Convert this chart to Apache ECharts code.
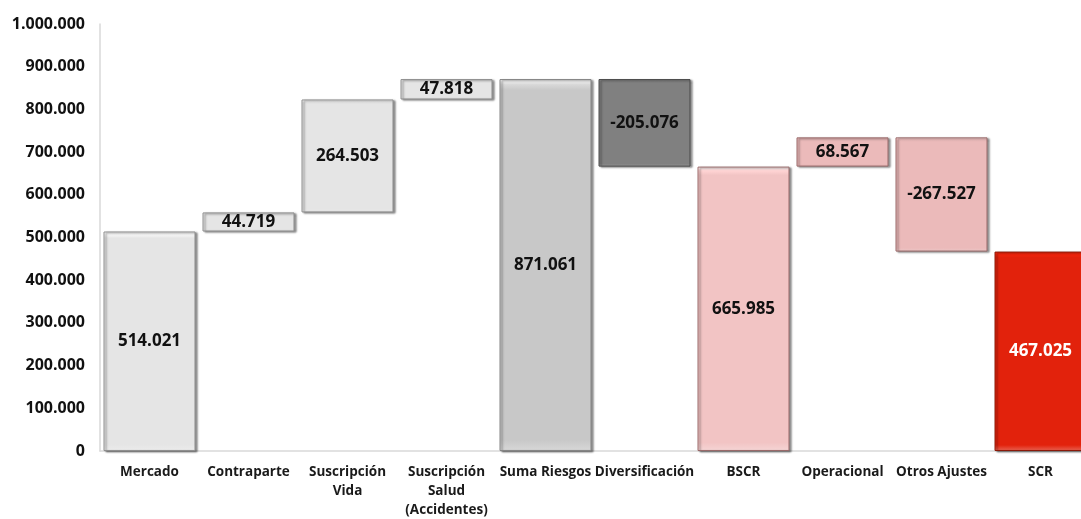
<!DOCTYPE html>
<html>
<head>
<meta charset="utf-8">
<script src="https://cdn.jsdelivr.net/npm/echarts@6/dist/echarts.min.js"></script>
<style>
  html, body { margin: 0; padding: 0; background: #fff; }
  #main { width: 1081px; height: 519px; }
</style>
</head>
<body>
<div id="main"></div>
<script>
// datos de la cascada
var categories = ['Mercado', 'Contraparte', 'Suscripción\nVida', 'Suscripción\nSalud\n(Accidentes)',
  'Suma Riesgos', 'Diversificación', 'BSCR', 'Operacional', 'Otros Ajustes', 'SCR'];
var values = [514021, 44719, 264503, 47818, 871061, -205076, 665985, 68567, -267527, 467025];
var isTotal = [false, false, false, false, true, false, true, false, false, true];
var yTicks = [0, 100000, 200000, 300000, 400000, 500000, 600000, 700000, 800000, 900000, 1000000];

var colors = ['#e5e5e5', '#e5e5e5', '#e5e5e5', '#e5e5e5', '#c8c8c8', '#808080',
  '#f2c4c4', '#ebbaba', '#ebbaba', '#e2220c'];
var borders = ['#8f8f8f', '#8f8f8f', '#8f8f8f', '#8f8f8f', '#858585', '#4a4a4a',
  '#9a6a6a', '#9a6a6a', '#9a6a6a', '#8a1a0a'];

function fmt(v) {
  var s = String(Math.abs(v)).replace(/\B(?=(\d{3})+(?!\d))/g, '.');
  return (v < 0 ? '-' : '') + s;
}

// base invisible + altura visible
var base = [], height = [];
var running = 0;
for (var i = 0; i < values.length; i++) {
  if (isTotal[i]) {
    base.push(0);
    height.push(values[i]);
    running = values[i];
  } else if (values[i] >= 0) {
    base.push(running);
    height.push(values[i]);
    running += values[i];
  } else {
    running += values[i];
    base.push(running);
    height.push(-values[i]);
  }
}

var chartDom = document.getElementById('main');
var myChart = echarts.init(chartDom);
var option;

var FONT = '"Open Sans", "Noto Sans", sans-serif';

option = {
  animation: false,
  grid: {
    left: 100,
    right: -9,
    top: 24,
    bottom: 68,
    outerBoundsMode: 'none'
  },
  xAxis: {
    type: 'category',
    data: categories,
    axisLine: { show: true, lineStyle: { color: '#d9d9d9', width: 1.5 } },
    axisTick: { show: false },
    axisLabel: {
      interval: 0,
      color: '#1a1a1a',
      fontFamily: FONT,
      fontWeight: 'bold',
      fontSize: 13.5,
      lineHeight: 19,
      margin: 12
    }
  },
  yAxis: {
    type: 'value',
    min: 0,
    max: yTicks[yTicks.length - 1],
    interval: yTicks[1] - yTicks[0],
    splitLine: { show: false },
    axisLine: { show: true, lineStyle: { color: '#d9d9d9', width: 1.5 } },
    axisTick: { show: false },
    axisLabel: {
      color: '#111',
      fontFamily: FONT,
      fontWeight: 'bold',
      fontSize: 16,
      margin: 15,
      formatter: function (v) { return fmt(v); }
    }
  },
  series: [
    {
      name: 'base',
      type: 'bar',
      stack: 'w',
      silent: true,
      barWidth: 92,
      itemStyle: { color: 'transparent' },
      data: base
    },
    {
      name: 'valor',
      type: 'bar',
      stack: 'w',
      barWidth: 92,
      data: height.map(function (h, i) {
        return {
          value: h,
          itemStyle: {
            color: new echarts.graphic.LinearGradient(0, 0, 0, 1, [
              { offset: 0, color: echarts.color.lift(colors[i], -0.3) },
              { offset: 0.015, color: echarts.color.lift(colors[i], -0.08) },
              { offset: 0.03, color: colors[i] },
              { offset: 0.97, color: colors[i] },
              { offset: 1, color: echarts.color.lift(colors[i], 0.3) }
            ]),
            borderColor: borders[i],
            borderWidth: 1,
            shadowColor: 'rgba(0,0,0,0.45)',
            shadowBlur: 2,
            shadowOffsetX: 2,
            shadowOffsetY: 1
          },
          label: {
            show: true,
            position: 'inside',
            formatter: fmt(values[i]),
            color: i === values.length - 1 ? '#fff' : '#111',
            fontFamily: FONT,
            fontWeight: 'bold',
            fontSize: 17
          }
        };
      })
    }
  ]
};

option && myChart.setOption(option);
</script>
</body>
</html>
